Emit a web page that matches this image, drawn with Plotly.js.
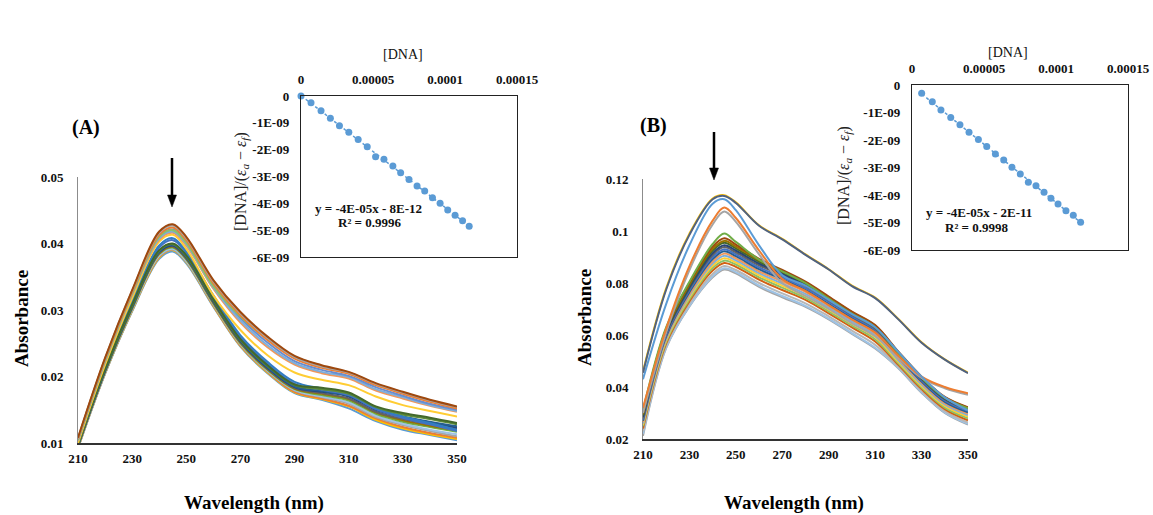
<!DOCTYPE html>
<html><head><meta charset="utf-8">
<script src="https://cdn.plot.ly/plotly-3.0.1.min.js"></script>
<style>html,body{margin:0;padding:0;background:#fff;}#chart{width:1153px;height:515px;}</style>
</head><body><div id="chart"></div>
<script>
// ---------- shared ----------
const wavelength = [210,220,230,240,245,250,260,270,280,290,300,310,320,330,340,350];
const xTicks = [210,230,250,270,290,310,330,350];
const yTicksA = [0.01,0.02,0.03,0.04,0.05];
const yTickTextA = ['0.01','0.02','0.03','0.04','0.05'];
const yTicksB = [0.02,0.04,0.06,0.08,0.1,0.12];
const yTickTextB = ['0.02','0.04','0.06','0.08','0.1','0.12'];

// ---------- panel A spectra ----------
const A01 = [.0108,.0228,.0330,.0418,.0429,.0410,.0345,.0297,.0260,.0231,.0217,.0207,.0190,.0177,.0165,.0155];
const A02 = [.0107,.0227,.0329,.0416,.0427,.0408,.0343,.0295,.0258,.0229,.0215,.0206,.0189,.0176,.0164,.0154];
const A03 = [.0106,.0226,.0327,.0413,.0424,.0405,.0340,.0292,.0255,.0227,.0213,.0204,.0187,.0174,.0162,.0152];
const A04 = [.0105,.0224,.0325,.0410,.0420,.0401,.0336,.0290,.0256,.0230,.0216,.0205,.0188,.0175,.0163,.0153];
const A05 = [.0105,.0225,.0326,.0411,.0421,.0402,.0337,.0288,.0251,.0223,.0210,.0201,.0184,.0171,.0159,.0150];
const A06 = [.0104,.0223,.0324,.0408,.0418,.0399,.0334,.0284,.0247,.0220,.0207,.0199,.0181,.0169,.0157,.0148];
const A07 = [.0104,.0222,.0323,.0406,.0416,.0397,.0332,.0281,.0244,.0218,.0205,.0197,.0179,.0167,.0156,.0147];
const A08 = [.0100,.0218,.0318,.0403,.0413,.0392,.0322,.0270,.0232,.0206,.0195,.0187,.0170,.0157,.0148,.0140];
const A09 = [.0099,.0215,.0313,.0397,.0408,.0388,.0322,.0262,.0222,.0192,.0182,.0174,.0153,.0140,.0130,.0120];
const A10 = [.0098,.0213,.0311,.0394,.0405,.0386,.0320,.0259,.0219,.0189,.0180,.0172,.0151,.0138,.0128,.0118];
const A11 = [.0093,.0205,.0300,.0380,.0391,.0373,.0307,.0247,.0207,.0177,.0167,.0156,.0137,.0124,.0115,.0108];
const A12 = [.0093,.0205,.0299,.0379,.0390,.0372,.0306,.0246,.0206,.0176,.0166,.0155,.0135,.0122,.0113,.0106];
const A13 = [.0092,.0204,.0298,.0377,.0388,.0370,.0305,.0245,.0205,.0175,.0165,.0152,.0133,.0120,.0112,.0104];
const A14 = [.0094,.0206,.0301,.0382,.0392,.0374,.0309,.0249,.0209,.0180,.0170,.0161,.0141,.0129,.0120,.0113];
const A15 = [.0094,.0206,.0300,.0381,.0391,.0373,.0308,.0248,.0208,.0179,.0169,.0159,.0139,.0127,.0118,.0110];
const A16 = [.0095,.0208,.0303,.0385,.0395,.0377,.0311,.0251,.0211,.0182,.0174,.0166,.0146,.0134,.0126,.0119];
const A17 = [.0096,.0208,.0304,.0386,.0396,.0378,.0312,.0252,.0212,.0183,.0175,.0167,.0147,.0136,.0128,.0121];
const A18 = [.0097,.0210,.0306,.0388,.0398,.0380,.0314,.0254,.0214,.0185,.0178,.0171,.0151,.0140,.0132,.0125];
const A19 = [.0096,.0209,.0305,.0387,.0397,.0379,.0313,.0253,.0213,.0184,.0177,.0170,.0150,.0139,.0131,.0123];
const A20 = [.0095,.0207,.0302,.0384,.0394,.0376,.0310,.0250,.0210,.0181,.0172,.0164,.0144,.0132,.0124,.0117];
const A21 = [.0097,.0211,.0307,.0389,.0399,.0381,.0315,.0255,.0216,.0187,.0181,.0174,.0154,.0143,.0136,.0128];
const A22 = [.0098,.0212,.0308,.0390,.0400,.0382,.0316,.0256,.0217,.0188,.0183,.0176,.0155,.0145,.0138,.0130];
const seriesA = [A13,A12,A11,A15,A14,A20,A16,A17,A19,A18,A10,A09,A21,A22,A08,A07,A06,A05,A04,A03,A02,A01];
const colorsA = ['#5B9BD5','#FFC000','#ED7D31','#A5A5A5','#9DC3E6','#70AD47','#997300','#636363','#264478','#255E91','#4472C4','#327DC2','#5A8A39','#43682B','#FFCD33','#F1975A','#7CAFDD','#698ED0','#8CC168','#ED7D31','#A5A5A5','#9E480E'];

// ---------- panel B spectra ----------
const B01 = [.0455,.0775,.0985,.1122,.1135,.1108,.1020,.0968,.0908,.0852,.0788,.0742,.0660,.0570,.0505,.0453];
const B02 = [.0460,.0780,.0990,.1125,.1138,.1110,.1022,.0970,.0910,.0853,.0790,.0744,.0662,.0572,.0506,.0455];
const B03 = [.0430,.0720,.0945,.1105,.1122,.1080,.0945,.0830,.0790,.0735,.0680,.0630,.0535,.0440,.0360,.0310];
const B04 = [.0320,.0625,.0865,.1040,.1090,.1050,.0925,.0815,.0770,.0715,.0660,.0610,.0520,.0440,.0400,.0376];
const B05 = [.0300,.0610,.0850,.1025,.1075,.1035,.0910,.0800,.0750,.0700,.0645,.0595,.0512,.0435,.0395,.0370];
const B06 = [.0310,.0630,.0805,.0950,.0990,.0958,.0890,.0845,.0800,.0740,.0682,.0630,.0530,.0435,.0358,.0318];
const B07 = [.0300,.0625,.0800,.0940,.0972,.0948,.0893,.0850,.0805,.0748,.0690,.0638,.0536,.0440,.0362,.0322];
const B08 = [.0295,.0620,.0795,.0932,.0962,.0940,.0888,.0846,.0802,.0745,.0688,.0636,.0534,.0438,.0360,.0320];
const B09 = [.0290,.0615,.0790,.0925,.0955,.0933,.0882,.0842,.0798,.0742,.0685,.0633,.0532,.0436,.0358,.0318];
const B10 = [.0285,.0610,.0783,.0915,.0945,.0925,.0875,.0836,.0793,.0738,.0682,.0630,.0529,.0433,.0355,.0315];
const B11 = [.0280,.0605,.0778,.0908,.0938,.0918,.0868,.0830,.0788,.0733,.0677,.0625,.0525,.0430,.0352,.0312];
const B12 = [.0275,.0600,.0772,.0900,.0930,.0910,.0860,.0822,.0780,.0727,.0672,.0620,.0520,.0426,.0348,.0308];
const B13 = [.0270,.0595,.0765,.0892,.0922,.0903,.0853,.0815,.0774,.0720,.0666,.0614,.0515,.0421,.0343,.0303];
const B14 = [.0265,.0590,.0758,.0883,.0913,.0895,.0845,.0806,.0766,.0713,.0659,.0607,.0509,.0416,.0338,.0298];
const B15 = [.0260,.0585,.0752,.0875,.0905,.0887,.0838,.0798,.0758,.0706,.0652,.0600,.0503,.0410,.0333,.0292];
const B16 = [.0255,.0580,.0745,.0866,.0895,.0879,.0830,.0790,.0750,.0698,.0644,.0592,.0497,.0404,.0327,.0286];
const B17 = [.0250,.0575,.0738,.0858,.0886,.0871,.0822,.0782,.0743,.0691,.0637,.0584,.0491,.0398,.0321,.0280];
const B18 = [.0240,.0568,.0730,.0848,.0877,.0862,.0813,.0773,.0735,.0683,.0629,.0575,.0485,.0392,.0315,.0272];
const B19 = [.0230,.0560,.0720,.0835,.0865,.0850,.0800,.0760,.0722,.0672,.0617,.0562,.0478,.0385,.0307,.0263];
const B20 = [.0212,.0550,.0710,.0822,.0852,.0837,.0785,.0745,.0708,.0660,.0604,.0548,.0472,.0378,.0300,.0255];
const B21 = [.0220,.0552,.0712,.0826,.0857,.0842,.0790,.0750,.0712,.0663,.0607,.0551,.0474,.0380,.0302,.0258];
const seriesB = [B20,B21,B19,B18,B17,B16,B15,B14,B13,B12,B11,B10,B09,B08,B07,B06,B05,B04,B03,B02,B01];
const colorsB = ['#A5A5A5','#9DC3E6','#B7B7B7','#D26012','#8CC168','#FFCD33','#7CAFDD','#F1975A','#255E91','#4472C4','#636363','#264478','#43682B','#997300','#9E480E','#70AD47','#A5A5A5','#ED7D31','#5B9BD5','#FFC000','#4F6282'];

// ---------- insets ----------
const insetA_dna = [0,6.95e-6,1.39e-5,2.04e-5,2.67e-5,3.32e-5,3.97e-5,4.60e-5,5.18e-5,5.76e-5,6.38e-5,6.92e-5,7.50e-5,8.06e-5,8.59e-5,9.13e-5,9.66e-5,1.019e-4,1.070e-4,1.122e-4,1.168e-4];
const insetA_val = [0,-0.249e-9,-0.547e-9,-0.833e-9,-1.107e-9,-1.355e-9,-1.617e-9,-1.89e-9,-2.26e-9,-2.36e-9,-2.61e-9,-2.86e-9,-3.11e-9,-3.35e-9,-3.54e-9,-3.79e-9,-4.00e-9,-4.25e-9,-4.44e-9,-4.65e-9,-4.85e-9];
const insetB_dna = [6.71e-6,1.41e-5,2.01e-5,2.69e-5,3.33e-5,3.96e-5,4.61e-5,5.19e-5,5.79e-5,6.37e-5,6.94e-5,7.52e-5,8.08e-5,8.61e-5,9.17e-5,9.65e-5,1.014e-4,1.069e-4,1.120e-4,1.171e-4];
const insetB_val = [-0.30e-9,-0.61e-9,-0.91e-9,-1.18e-9,-1.45e-9,-1.72e-9,-1.98e-9,-2.24e-9,-2.51e-9,-2.73e-9,-2.99e-9,-3.24e-9,-3.54e-9,-3.66e-9,-3.90e-9,-4.12e-9,-4.33e-9,-4.57e-9,-4.74e-9,-4.99e-9];
const insetXTicks = [0,0.00005,0.0001,0.00015];
const insetXText = ['0','0.00005','0.0001','0.00015'];
const insetYTicks = [0,-1e-9,-2e-9,-3e-9,-4e-9,-5e-9,-6e-9];
const insetYText = ['0','-1E-09','-2E-09','-3E-09','-4E-09','-5E-09','-6E-09'];
const eqA = ['y = -4E-05x - 8E-12','R² = 0.9996'];
const eqB = ['y = -4E-05x - 2E-11','R² = 0.9998'];

// ---------- build ----------
const serif = 'Liberation Serif';
const W = 1153, H = 515;
const px = v => v / W, py = v => 1 - v / H;
const blue = '#5B9BD5';

function fit(xs, ys){
  const n = xs.length; let sx=0, sy=0, sxx=0, sxy=0;
  for (let i=0;i<n;i++){sx+=xs[i];sy+=ys[i];sxx+=xs[i]*xs[i];sxy+=xs[i]*ys[i];}
  const m = (n*sxy - sx*sy)/(n*sxx - sx*sx); const b = (sy - m*sx)/n;
  const x0 = Math.min(...xs), x1 = Math.max(...xs);
  return {x:[x0,x1], y:[m*x0+b, m*x1+b]};
}

const traces = [];
seriesA.forEach((s,i)=>traces.push({x:wavelength,y:s,xaxis:'x',yaxis:'y',type:'scatter',mode:'lines',
  line:{color:colorsA[i],width:2,shape:'spline',smoothing:1},hoverinfo:'skip'}));
seriesB.forEach((s,i)=>traces.push({x:wavelength,y:s,xaxis:'x2',yaxis:'y2',type:'scatter',mode:'lines',
  line:{color:colorsB[i],width:2,shape:'spline',smoothing:1},hoverinfo:'skip'}));
const fA = fit(insetA_dna, insetA_val), fB = fit(insetB_dna, insetB_val);
traces.push({x:fA.x,y:fA.y,xaxis:'x3',yaxis:'y3',mode:'lines',line:{color:blue,width:1.5,dash:'dot'}});
traces.push({x:insetA_dna,y:insetA_val,xaxis:'x3',yaxis:'y3',mode:'markers',marker:{color:blue,size:7},cliponaxis:false});
traces.push({x:fB.x,y:fB.y,xaxis:'x4',yaxis:'y4',mode:'lines',line:{color:blue,width:1.5,dash:'dot'}});
traces.push({x:insetB_dna,y:insetB_val,xaxis:'x4',yaxis:'y4',mode:'markers',marker:{color:blue,size:7},cliponaxis:false});

const tickMain = {family:serif,size:13,weight:'bold',color:'#111'};
const tickInset = {family:serif,size:13,weight:'bold',color:'#111'};
const baseAx = {showgrid:false,zeroline:false,ticks:'',fixedrange:true};

function note(text, x, y, font, extra){
  return Object.assign({text, x:px(x), y:py(y), xref:'paper', yref:'paper', showarrow:false,
    xanchor:'center', yanchor:'middle', font}, extra||{});
}
function arrow(x, yTail, yTip){
  return [
    {type:'line', xref:'paper', yref:'paper', x0:px(x), x1:px(x), y0:py(yTail), y1:py(yTip-10), line:{color:'#000', width:2.5}},
    {type:'path', xref:'paper', yref:'paper', fillcolor:'#000', line:{color:'#000', width:0.5},
      path:`M ${px(x-4.5)} ${py(yTip-12)} L ${px(x+4.5)} ${py(yTip-12)} L ${px(x)} ${py(yTip)} Z`}
  ];
}
const titleFont = {family:serif,size:19,weight:'bold',color:'#000'};
const eqFont = {family:serif,size:13,weight:'bold',color:'#111'};
const insetTitleFont = {family:serif,size:16,color:'#222'};
const yInsetTitle = '[DNA]/(<i>ε</i><sub><i>a</i></sub> − <i>ε</i><sub><i>f</i></sub>)';

const layout = {
  width:W, height:H, margin:{l:0,r:0,t:0,b:0}, showlegend:false,
  paper_bgcolor:'#fff', plot_bgcolor:'rgba(0,0,0,0)',
  xaxis:{...baseAx,domain:[px(78),px(457)],range:[210,350],anchor:'y',tickmode:'array',tickvals:xTicks,
    showline:true,linecolor:'#333',linewidth:1.5,tickfont:tickMain,ticklabelstandoff:3},
  yaxis:{...baseAx,domain:[py(443),py(177)],range:[0.01,0.05],anchor:'x',tickmode:'array',tickvals:yTicksA,ticktext:yTickTextA,
    showline:true,linecolor:'#8c8c8c',linewidth:1,tickfont:tickMain,ticklabelstandoff:11},
  xaxis2:{...baseAx,domain:[px(643),px(968)],range:[210,350],anchor:'y2',tickmode:'array',tickvals:xTicks,
    showline:true,linecolor:'#333',linewidth:1.5,tickfont:tickMain,ticklabelstandoff:3},
  yaxis2:{...baseAx,domain:[py(439),py(179)],range:[0.02,0.12],anchor:'x2',tickmode:'array',tickvals:yTicksB,ticktext:yTickTextB,
    showline:true,linecolor:'#8c8c8c',linewidth:1,tickfont:tickMain,ticklabelstandoff:11},
  xaxis3:{...baseAx,domain:[px(301),px(517)],range:[0,0.00015],anchor:'y3',side:'top',tickmode:'array',tickvals:insetXTicks,ticktext:insetXText,
    showline:true,mirror:true,linecolor:'#222',linewidth:1.2,tickfont:tickInset,ticklabelstandoff:6},
  yaxis3:{...baseAx,domain:[py(257),py(96)],range:[-6e-9,0],anchor:'x3',tickmode:'array',tickvals:insetYTicks,ticktext:insetYText,
    showline:true,mirror:true,linecolor:'#222',linewidth:1.2,tickfont:tickInset,ticklabelstandoff:8},
  xaxis4:{...baseAx,domain:[px(912),px(1128)],range:[0,0.00015],anchor:'y4',side:'top',tickmode:'array',tickvals:insetXTicks,ticktext:insetXText,
    showline:true,mirror:true,linecolor:'#222',linewidth:1.2,tickfont:tickInset,ticklabelstandoff:6},
  yaxis4:{...baseAx,domain:[py(250),py(85)],range:[-6e-9,0],anchor:'x4',tickmode:'array',tickvals:insetYTicks,ticktext:insetYText,
    showline:true,mirror:true,linecolor:'#222',linewidth:1.2,tickfont:tickInset,ticklabelstandoff:8},
  shapes:[...arrow(172,158,207), ...arrow(714,132,180)],
  annotations:[
    note('(A)', 86, 127, {family:serif,size:20,weight:'bold',color:'#000'}),
    note('(B)', 653, 125, {family:serif,size:20,weight:'bold',color:'#000'}),
    note('Absorbance', 21, 318, titleFont, {textangle:-90}),
    note('Absorbance', 584, 318, titleFont, {textangle:-90}),
    note('Wavelength (nm)', 254, 503, titleFont),
    note('Wavelength (nm)', 794, 503, titleFont),
    note('[DNA]', 403, 55, {family:serif,size:14,color:'#111'}),
    note('[DNA]', 1008, 52, {family:serif,size:14,color:'#111'}),
    note(yInsetTitle, 241, 182, insetTitleFont, {textangle:-90}),
    note(yInsetTitle, 845, 176, insetTitleFont, {textangle:-90}),
    note(eqA[0], 368, 208, eqFont),
    note(eqA[1], 369, 222, eqFont),
    note(eqB[0], 979, 212, eqFont),
    note(eqB[1], 976, 227, eqFont)
  ]
};
Plotly.newPlot('chart', traces, layout, {staticPlot:true, displayModeBar:false});
</script>
</body></html>
